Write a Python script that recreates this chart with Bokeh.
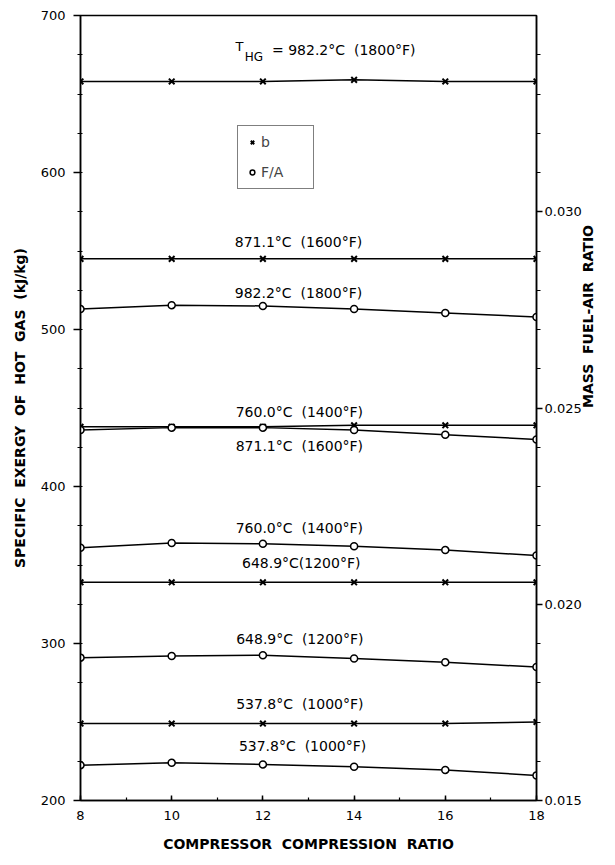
import math
from bokeh.plotting import figure
from bokeh.models import (Range1d, LinearAxis, SingleIntervalTicker, FixedTicker,
                          PrintfTickFormatter, Label, Legend, LegendItem)
from bokeh.embed import file_html
from bokeh.resources import INLINE

# ---------------- data ----------------
ratio = [8, 10, 12, 14, 16, 18]

# specific exergy of hot gas b_HG (kJ/kg), left axis
b_1800 = [658, 658, 658, 659, 658, 658]
b_1600 = [545, 545, 545, 545, 545, 545]
b_1400 = [438, 438, 438, 439, 439, 439]
b_1200 = [339, 339, 339, 339, 339, 339]
b_1000 = [249, 249, 249, 249, 249, 250]

# mass fuel-air ratio F/A, right axis
fa_1800 = [0.02752, 0.02762, 0.02760, 0.02752, 0.02742, 0.02732]
fa_1600 = [0.02444, 0.02450, 0.02450, 0.02444, 0.02432, 0.02420]
fa_1400 = [0.02144, 0.02156, 0.02154, 0.02148, 0.02138, 0.02124]
fa_1200 = [0.01864, 0.01868, 0.01870, 0.01862, 0.01852, 0.01840]
fa_1000 = [0.01590, 0.01596, 0.01592, 0.01586, 0.01578, 0.01564]

b_series = [b_1800, b_1600, b_1400, b_1200, b_1000]
fa_series = [fa_1800, fa_1600, fa_1400, fa_1200, fa_1000]

# right-axis ticks
fa_major_ticks = [0.015, 0.020, 0.025, 0.030]
fa_minor_ticks = [0.016, 0.017, 0.018, 0.019, 0.021, 0.022, 0.023, 0.024,
                  0.026, 0.027, 0.028, 0.029, 0.031, 0.032, 0.033, 0.034]

NB = "\u00a0 "
# curve labels (text, x, y in left-axis units)
curve_labels = [
    ("871.1°C" + NB + "(1600°F)", 12.78, 556),
    ("982.2°C" + NB + "(1800°F)", 12.78, 523.5),
    ("760.0°C" + NB + "(1400°F)", 12.8, 447.5),
    ("871.1°C" + NB + "(1600°F)", 12.8, 426),
    ("760.0°C" + NB + "(1400°F)", 12.8, 373.5),
    ("648.9°C(1200°F)", 12.84, 351),
    ("648.9°C" + NB + "(1200°F)", 12.81, 303),
    ("537.8°C" + NB + "(1000°F)", 12.81, 261.5),
    ("537.8°C" + NB + "(1000°F)", 12.87, 234.5),
]

FONT = "DejaVu Sans"

p = figure(width=607, height=857, x_range=Range1d(8, 18), y_range=Range1d(200, 700),
           output_backend="svg", toolbar_location=None,
           min_border_left=80, min_border_right=71, min_border_top=15, min_border_bottom=57)
p.extra_y_ranges = {"fa": Range1d(0.015, 0.035)}
p.xgrid.visible = False
p.ygrid.visible = False
p.outline_line_color = "black"
p.outline_line_width = 1.5
p.background_fill_color = "white"
p.border_fill_color = "white"

# x axis
xa = p.xaxis[0]
xa.ticker = SingleIntervalTicker(interval=2, num_minor_ticks=2)
xa.axis_label = "COMPRESSOR" + NB + "COMPRESSION" + NB + "RATIO"
xa.major_tick_in = 5
xa.major_tick_out = 0
xa.minor_tick_in = 3
xa.minor_tick_out = 0
xa.major_label_standoff = 10
xa.axis_label_standoff = 13

# left axis
ya = p.yaxis[0]
ya.ticker = SingleIntervalTicker(interval=100, num_minor_ticks=4)
ya.axis_label = ("SPECIFIC" + NB + "EXERGY" + NB + "OF" + NB + "HOT" + NB + "GAS" + NB + "(kJ/kg)")
ya.major_tick_out = 7
ya.major_tick_in = 0
ya.minor_tick_out = 3
ya.minor_tick_in = 2
ya.major_label_standoff = 8
ya.axis_label_standoff = 10

# right axis (label sits below the middle in the reference; trailing
# no-break spaces shift the visible words downward)
ra = LinearAxis(y_range_name="fa",
                ticker=FixedTicker(ticks=fa_major_ticks, minor_ticks=fa_minor_ticks),
                formatter=PrintfTickFormatter(format="%.3f"),
                axis_label="MASS" + NB + "FUEL-AIR" + NB + "RATIO" + "\u00a0" * 32)
ra.major_tick_out = 6
ra.major_tick_in = 0
ra.minor_tick_out = 4
ra.minor_tick_in = 0
ra.major_label_standoff = 2
ra.axis_label_standoff = 3
if "axis_label_orientation" in ra.properties():
    ra.axis_label_orientation = math.pi / 2
p.add_layout(ra, "right")

for ax in (xa, ya, ra):
    ax.axis_line_color = "black"
    ax.axis_line_width = 1.5
    ax.major_tick_line_width = 1.5
    ax.minor_tick_line_width = 1.2
    ax.major_label_text_font = FONT
    ax.major_label_text_font_size = "13px"
    ax.major_label_text_color = "black"
    ax.axis_label_text_font = FONT
    ax.axis_label_text_font_style = "bold"
    ax.axis_label_text_font_size = "14px"
    ax.axis_label_text_color = "black"

x_rends = []
o_rends = []
for b in b_series:
    p.line(ratio, b, line_color="black", line_width=1.5)
    x_rends.append(p.scatter(ratio, b, marker="x", size=8, line_color="black", line_width=2))
for fa in fa_series:
    p.line(ratio, fa, y_range_name="fa", line_color="black", line_width=1.5)
    o_rends.append(p.scatter(ratio, fa, y_range_name="fa", marker="circle", size=7,
                             fill_color="white", line_color="black", line_width=1.5))

for txt, x, y in curve_labels:
    p.add_layout(Label(x=x, y=y, text=txt, text_align="center", text_baseline="middle",
                       text_font=FONT, text_font_size="14px", text_color="black"))

# T_HG title
p.add_layout(Label(x=11.4, y=680, text="T", text_align="left", text_baseline="middle",
                   text_font=FONT, text_font_size="13px", text_color="black"))
p.add_layout(Label(x=11.6, y=673.5, text="HG", text_align="left", text_baseline="middle",
                   text_font=FONT, text_font_size="12px", text_color="black"))
p.add_layout(Label(x=12.2, y=678, text="= 982.2°C" + NB + "(1800°F)", text_align="left",
                   text_baseline="middle", text_font=FONT, text_font_size="14px",
                   text_color="black"))

# legend
leg = Legend(items=[LegendItem(label="b", renderers=[x_rends[0]]),
                    LegendItem(label="F/A", renderers=[o_rends[0]])],
             location=(157, 611), orientation="vertical")
leg.border_line_color = "black"
leg.border_line_width = 1.2
leg.background_fill_alpha = 1
leg.padding = 8
leg.spacing = 14
leg.margin = 0
leg.glyph_width = 12
leg.glyph_height = 14
leg.label_standoff = 3
leg.label_width = 44
leg.label_text_font = FONT
leg.label_text_font_size = "14px"
leg.label_height = 16
p.add_layout(leg, "center")
p.add_layout(Label(x=12.17, y=613.5, text="HG", text_align="left", text_baseline="middle",
                   text_font=FONT, text_font_size="12px", text_color="black"))

open("out.html", "w").write(file_html(p, INLINE))
